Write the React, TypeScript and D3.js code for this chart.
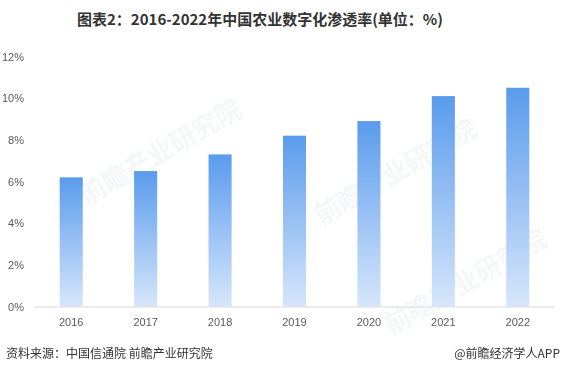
import React, { useRef, useEffect } from 'react';
import * as d3 from 'd3';

const years = ['2016', '2017', '2018', '2019', '2020', '2021', '2022'];
const rates = [6.2, 6.5, 7.3, 8.2, 8.9, 10.1, 10.5];
const yTicks = [0, 2, 4, 6, 8, 10, 12];

const W = 562;
const H = 373;

const App: React.FC = () => {
  const svgRef = useRef<SVGSVGElement | null>(null);

  useEffect(() => {
    if (!svgRef.current) return;
    const svg = d3.select(svgRef.current);
    svg.selectAll('*').remove();

    const margin = { left: 34, right: 7, top: 56, bottom: 66 };
    const x = d3
      .scaleBand<string>()
      .domain(years)
      .range([margin.left, W - margin.right])
      .paddingInner(0.69)
      .paddingOuter(0.345);
    const y = d3.scaleLinear().domain([0, 12]).range([H - margin.bottom - 0.5, margin.top + 0.5]);

    const defs = svg.append('defs');
    const grad = defs
      .append('linearGradient')
      .attr('id', 'barGrad')
      .attr('x1', 0)
      .attr('y1', 0)
      .attr('x2', 0)
      .attr('y2', 1);
    grad.append('stop').attr('offset', '0%').attr('stop-color', '#5a9bec');
    grad.append('stop').attr('offset', '100%').attr('stop-color', '#d6e6fb');

    // title
    svg
      .append('text')
      .attr('x', 260)
      .attr('y', 25)
      .attr('text-anchor', 'middle')
      .attr('font-family', '"Noto Sans CJK SC", sans-serif')
      .attr('font-weight', 'bold')
      .attr('font-size', 15)
      .attr('fill', '#333')
      .text('图表2：2016-2022年中国农业数字化渗透率(单位：%)');

    // faint watermarks
    const wm = svg.append('g').attr('fill', '#9aa3ad').attr('opacity', 0.1)
      .attr('font-family', '"Noto Sans CJK SC", sans-serif').attr('font-weight', 'bold');
    [[165, 160], [400, 180], [470, 290]].forEach(([cx, cy]) => {
      wm.append('text')
        .attr('transform', `translate(${cx},${cy}) rotate(-30)`)
        .attr('text-anchor', 'middle')
        .attr('font-size', 26)
        .text('前瞻产业研究院');
    });

    // y-axis labels
    svg
      .append('g')
      .selectAll('text')
      .data(yTicks)
      .join('text')
      .attr('x', 24)
      .attr('y', (d) => y(d) + 4)
      .attr('text-anchor', 'end')
      .attr('font-family', '"Liberation Sans", Arial, sans-serif')
      .attr('font-size', 11)
      .attr('fill', '#595959')
      .text((d) => `${d}%`);

    // bars
    svg
      .append('g')
      .selectAll('rect')
      .data(rates)
      .join('rect')
      .attr('x', (_, i) => x(years[i])!)
      .attr('y', (d) => y(d))
      .attr('width', x.bandwidth())
      .attr('height', (d) => y(0) - y(d))
      .attr('fill', 'url(#barGrad)');

    // baseline
    svg
      .append('line')
      .attr('x1', margin.left)
      .attr('x2', W - margin.right)
      .attr('y1', y(0) + 0.5)
      .attr('y2', y(0) + 0.5)
      .attr('stroke', '#d9d9d9')
      .attr('stroke-width', 1);

    // x labels
    svg
      .append('g')
      .selectAll('text')
      .data(years)
      .join('text')
      .attr('x', (d) => x(d)! + x.bandwidth() / 2)
      .attr('y', y(0) + 19)
      .attr('text-anchor', 'middle')
      .attr('font-family', '"Liberation Sans", Arial, sans-serif')
      .attr('font-size', 11)
      .attr('fill', '#595959')
      .text((d) => d);

    // footer
    svg
      .append('text')
      .attr('x', 6)
      .attr('y', 358)
      .attr('font-family', '"Noto Sans CJK SC", sans-serif')
      .attr('font-size', 12)
      .attr('fill', '#333')
      .text('资料来源：中国信通院 前瞻产业研究院');
    svg
      .append('text')
      .attr('x', W - 2)
      .attr('y', 358)
      .attr('text-anchor', 'end')
      .attr('font-family', '"Noto Sans CJK SC", sans-serif')
      .attr('font-size', 12)
      .attr('fill', '#333')
      .text('@前瞻经济学人APP');
  }, []);

  return (
    <svg
      ref={svgRef}
      width={W}
      height={H}
      style={{ position: 'absolute', left: 0, top: 0, background: '#fff' }}
    />
  );
};

export default App;
